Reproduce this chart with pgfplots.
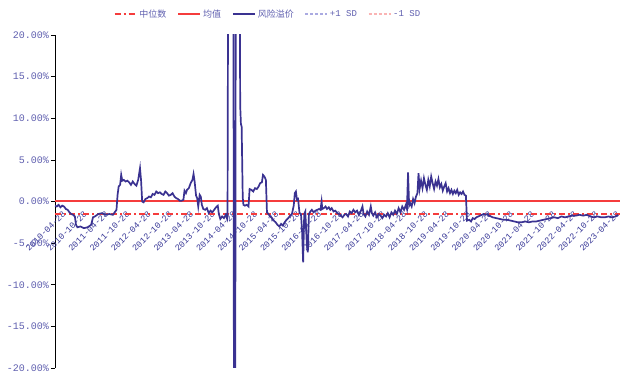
\documentclass[border=0pt]{standalone}
\usepackage{pgfplots}
\pgfplotsset{compat=1.18}
\usepackage{fontspec}
\setmainfont{Liberation Mono}
\newfontfamily\cjk{Noto Sans CJK SC}
\definecolor{tickc}{RGB}{95,95,175}
\definecolor{datec}{RGB}{55,55,150}
\definecolor{serc}{RGB}{58,50,145}
\definecolor{meanc}{RGB}{245,60,60}
\definecolor{psd}{RGB}{170,170,225}
\definecolor{msd}{RGB}{250,180,180}
\begin{document}
\begin{tikzpicture}
\begin{axis}[
  scale only axis, width=565pt, height=333pt,
  xmin=0, xmax=156.2, ymin=-20, ymax=20,
  axis x line*=bottom, axis y line*=left,
  x axis line style={draw=none},
  xtick={0,5.889,...,153.2},
  xticklabels={2010-04-28,2010-10-28,2011-04-28,2011-10-28,2012-04-28,2012-10-28,2013-04-28,2013-10-28,2014-04-28,2014-10-28,2015-04-28,2015-10-28,2016-04-28,2016-10-28,2017-04-28,2017-10-28,2018-04-28,2018-10-28,2019-04-28,2019-10-28,2020-04-28,2020-10-28,2021-04-28,2021-10-28,2022-04-28,2022-10-28,2023-04-28},
  major x tick style={draw=none},
  xticklabel style={xshift=7pt, yshift=163pt, rotate=45, anchor=north east, font=\fontsize{8.7}{10}\selectfont, text=datec, inner sep=1pt},
  ytick={-20,-15,...,20},
  yticklabels={-20.00\%,-15.00\%,-10.00\%,-5.00\%,0.00\%,5.00\%,10.00\%,15.00\%,20.00\%},
  yticklabel style={font=\fontsize{10}{12}\selectfont, text=tickc, inner sep=2pt},
  tick align=outside, major tick length=4pt,
  y axis line style={black, line width=0.8pt},
  major y tick style={black, line width=0.6pt},
  legend style={at={(0.377,1.063)}, anchor=center, draw=none, fill=none,
    legend columns=-1, font=\fontsize{9}{11}\selectfont, text=tickc,
    /tikz/every even column/.append style={column sep=9pt}},
  legend image code/.code={\draw[#1] (0pt,0pt) -- (22pt,0pt);},
]
\addplot[draw=meanc, line width=1.4pt, dash pattern=on 6pt off 3pt on 2pt off 3pt] coordinates {(0,-1.5) (156.2,-1.5)};
\addplot[draw=meanc, line width=1.8pt] table {
0 0.02
78 0.02
156.2 0.02
};
\addplot[serc, line width=1.7pt] table {
0 -0.5
0.5 -0.6
1 -0.4
1.5 -0.7
2 -0.5
2.5 -0.6
3 -0.9
3.5 -1.0
4 -1.3
4.5 -1.5
5 -1.6
5.5 -1.8
5.8 -2.8
6.2 -3.1
7 -3.0
8 -3.2
9 -3.1
10 -2.8
10.5 -1.9
11 -1.8
12 -1.5
13 -1.4
14 -1.6
15 -1.5
16 -1.6
16.5 -1.3
17 -1.0
17.3 0.8
17.6 1.8
18 2.0
18.3 3.2
18.6 2.5
19 2.6
19.5 2.4
20 2.5
20.5 2.3
21 2.0
21.5 2.4
22 2.1
22.5 1.9
23 2.6
23.5 4.0
23.8 2.5
24.1 0.0
24.5 -0.1
25 0.3
25.5 0.4
26 0.6
26.5 0.5
27 0.9
27.5 0.8
28 1.2
28.5 1.0
29 1.1
29.5 0.9
30 0.8
30.5 1.2
31 1.0
31.5 0.7
32 0.8
32.5 1.0
33 0.6
33.5 0.4
34 0.3
34.5 0.1
35 0.1
35.5 0.2
35.8 1.3
36.2 1.0
36.5 1.4
37 1.6
37.5 2.2
38 2.6
38.3 3.3
38.6 2.4
39 0.7
39.3 0.4
39.6 -0.6
40 0.8
40.3 0.6
40.6 -0.4
41 -0.9
41.5 -1.0
42 -0.8
42.5 -1.4
43 -1.1
43.5 -1.3
44 -1.0
44.5 -0.7
45 -0.5
45.3 -1.5
45.7 -2.1
46.2 -1.8
46.7 -2.0
47.2 -1.6
47.6 -2.1
47.7 -1.8
47.9 35
49.3 35
49.5 -35
49.8 -35
50.0 35
51.0 35
51.2 11.5
51.4 9.3
51.6 9.0
51.9 0.5
52.1 -0.4
52.5 -0.5
53 -0.4
53.5 -0.6
53.8 1.5
54.3 1.4
54.8 1.2
55.3 1.6
55.8 1.5
56.3 1.8
56.7 2.2
57.2 2.3
57.5 3.2
57.9 3.0
58.3 2.6
58.6 -1.3
59 -1.5
59.5 -1.8
60 -2.0
60.5 -2.3
61 -2.5
61.5 -2.8
62 -3.0
62.5 -2.7
63 -2.9
63.5 -2.5
64 -2.2
64.5 -2.0
65 -1.7
65.5 -1.5
66 -0.5
66.3 1.0
66.6 1.2
66.9 0.2
67.2 0.3
67.6 -1.4
68.0 -1.5
68.3 -3.5
68.6 -7.3
68.9 -1.5
69.2 -1.2
69.6 -5.0
69.9 -6.1
70.2 -1.5
70.6 -1.2
71 -1.0
71.5 -1.3
72 -1.1
72.5 -1.0
73 -0.9
73.4 -1.0
73.7 0.0
73.9 -0.9
74.3 -0.8
74.8 -0.6
75.2 -0.9
75.7 -0.7
76.1 -1.0
76.5 -0.8
77 -1.2
77.5 -1.1
78 -1.4
78.5 -1.5
79 -1.7
79.5 -1.9
80 -1.6
80.5 -1.5
81 -1.8
81.5 -1.2
82 -1.4
82.5 -1.0
83 -1.3
83.5 -1.1
84 -1.6
84.5 -1.2
85 -0.6
85.3 -1.5
85.8 -1.8
86.3 -1.2
86.8 -1.6
87.3 -0.6
87.6 -1.4
88 -1.7
88.5 -1.3
89 -1.9
89.5 -1.5
90 -1.7
90.5 -2.0
91 -1.6
91.5 -1.8
92 -1.4
92.5 -1.9
93 -1.3
93.5 -1.6
94 -1.1
94.5 -1.5
95 -0.8
95.5 -1.3
96 -0.6
96.5 -1.0
97 -0.4
97.3 -0.9
97.6 3.5
97.9 -0.5
98.2 -0.2
98.6 -0.6
99 0.3
99.4 -0.2
99.8 0.6
100.2 1.0
100.5 3.4
100.8 1.5
101.2 2.5
101.6 1.6
102 2.8
102.4 2.0
102.8 1.4
103.2 2.6
103.6 1.8
104 3.0
104.4 2.2
104.8 1.5
105.2 2.4
105.6 1.9
106 2.7
106.4 1.7
106.8 2.1
107.2 1.3
107.6 1.8
108 2.2
108.4 1.2
108.8 1.6
109.2 1.0
109.6 1.4
110 0.9
110.4 1.3
110.8 1.0
111.2 1.4
111.6 0.8
112 1.1
112.4 0.9
112.8 1.2
113.2 0.8
113.6 0.7
113.9 -2.3
114.5 -2.2
115 -2.4
115.5 -2.0
116 -2.1
116.5 -1.9
117 -1.8
117.5 -1.7
118 -1.6
118.5 -1.5
119 -1.6
119.5 -1.5
120 -1.7
121 -1.9
122 -2.0
123 -2.1
124 -2.2
125 -2.2
126 -2.3
127 -2.4
128 -2.5
129 -2.5
130 -2.4
131 -2.5
132 -2.4
133 -2.4
134 -2.3
135 -2.2
136 -2.1
137 -2.0
138 -1.9
139 -2.0
140 -1.8
141 -1.9
142 -1.8
143 -1.7
144 -1.7
145 -1.6
146 -1.7
147 -1.6
148 -1.8
149 -1.9
150 -1.8
151 -1.9
152 -1.9
153 -1.8
154 -1.9
155 -1.8
155.6 -1.6
};
\addlegendimage{psd, line width=1.2pt, dash pattern=on 3pt off 2pt}
\addlegendimage{msd, line width=1.2pt, dash pattern=on 3pt off 2pt}
\legend{{\cjk 中位数},{\cjk 均值},{\cjk 风险溢价},+1 SD,-1 SD}
\end{axis}
\pgfresetboundingbox
\path[use as bounding box] ([xshift=-55pt,yshift=-6pt]current axis.south west) rectangle ([yshift=35pt]current axis.north east);
\end{tikzpicture}
\end{document}
